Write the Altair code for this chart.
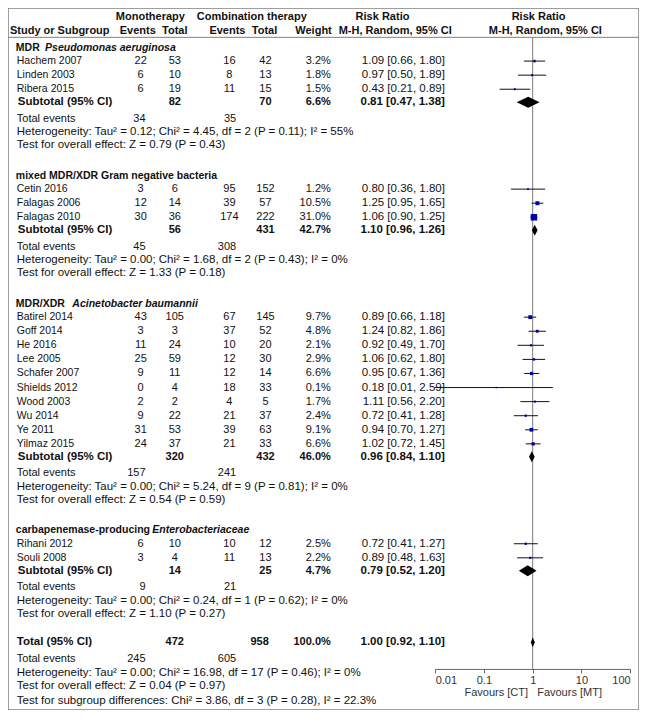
import altair as alt
import pandas as pd

# ---------------- data ----------------
study_group = [0, 0, 0, 1, 1, 1, 2, 2, 2, 2, 2, 2, 2, 2, 2, 2, 3, 3]
study_names = ["Hachem 2007", "Linden 2003", "Ribera 2015",
               "Cetin 2016", "Falagas 2006", "Falagas 2010",
               "Batirel 2014", "Goff 2014", "He 2016", "Lee 2005", "Schafer 2007",
               "Shields 2012", "Wood 2003", "Wu 2014", "Ye 2011", "Yilmaz 2015",
               "Rihani 2012", "Souli 2008"]
mono_events = [22, 6, 6, 3, 12, 30, 43, 3, 11, 25, 9, 0, 2, 9, 31, 24, 6, 3]
mono_total = [53, 10, 19, 6, 14, 36, 105, 3, 24, 59, 11, 4, 2, 22, 53, 37, 10, 4]
comb_events = [16, 8, 11, 95, 39, 174, 67, 37, 10, 12, 12, 18, 4, 21, 39, 21, 10, 11]
comb_total = [42, 13, 15, 152, 57, 222, 145, 52, 20, 30, 14, 33, 5, 37, 63, 33, 12, 13]
weights = [3.2, 1.8, 1.5, 1.2, 10.5, 31.0, 9.7, 4.8, 2.1, 2.9, 6.6, 0.1, 1.7, 2.4, 9.1, 6.6, 2.5, 2.2]
rr = [1.09, 0.97, 0.43, 0.80, 1.25, 1.06, 0.89, 1.24, 0.92, 1.06, 0.95, 0.18, 1.11, 0.72, 0.94, 1.02, 0.72, 0.89]
rr_lo = [0.66, 0.50, 0.21, 0.36, 0.95, 0.90, 0.66, 0.82, 0.49, 0.62, 0.67, 0.01, 0.56, 0.41, 0.70, 0.72, 0.41, 0.48]
rr_hi = [1.80, 1.89, 0.89, 1.80, 1.65, 1.25, 1.18, 1.86, 1.70, 1.80, 1.36, 2.59, 2.20, 1.28, 1.27, 1.45, 1.27, 1.63]

group_title_plain = ["MDR ", "mixed MDR/XDR Gram negative bacteria", "MDR/XDR ", "carbapenemase-producing "]
group_title_italic = ["Pseudomonas aeruginosa", "", "Acinetobacter baumannii", "Enterobacteriaceae"]
sub_mono_total = [82, 56, 320, 14]
sub_comb_total = [70, 431, 432, 25]
sub_weight = [6.6, 42.7, 46.0, 4.7]
sub_rr = [0.81, 1.10, 0.96, 0.79]
sub_lo = [0.47, 0.96, 0.84, 0.52]
sub_hi = [1.38, 1.26, 1.10, 1.20]
sub_mono_events = [34, 45, 157, 9]
sub_comb_events = [35, 308, 241, 21]
sub_heterogeneity = ["Tau² = 0.12; Chi² = 4.45, df = 2 (P = 0.11); I² = 55%",
                     "Tau² = 0.00; Chi² = 1.68, df = 2 (P = 0.43); I² = 0%",
                     "Tau² = 0.00; Chi² = 5.24, df = 9 (P = 0.81); I² = 0%",
                     "Tau² = 0.00; Chi² = 0.24, df = 1 (P = 0.62); I² = 0%"]
sub_overall = ["Z = 0.79 (P = 0.43)", "Z = 1.33 (P = 0.18)", "Z = 0.54 (P = 0.59)", "Z = 1.10 (P = 0.27)"]

total_mono_total = 472
total_comb_total = 958
total_weight = 100.0
total_rr = [1.00]
total_lo = [0.92]
total_hi = [1.10]
total_mono_events = 245
total_comb_events = 605
total_heterogeneity = "Tau² = 0.00; Chi² = 16.98, df = 17 (P = 0.46); I² = 0%"
total_overall = "Z = 0.04 (P = 0.97)"
subgroup_diff = "Chi² = 3.86, df = 3 (P = 0.28), I² = 22.3%"

axis_ticks = [0.01, 0.1, 1, 10, 100]
axis_title = "Favours [CT]\u00a0\u00a0 Favours [MT]"

# ---------------- layout ----------------
W, H = 631, 702
SX, SY = W / 647.0, H / 718.0
FONT = "Liberation Sans"
FS_HEAD, FS_TITLE, FS_NAME, FS_NUM, FS_RR, FS_SUB, FS_TE, FS_HET = 11, 10.5, 10.5, 11, 11.5, 11.5, 11, 11.5

# row positions (in reference pixel units, mapped by the y scale)
POS_HEAD1, POS_HEAD2, POS_LINE, POS_AXIS = 9.3, 23.3, 30.0, 676.0
study_pos, title_pos, sub_pos, te_pos, het_pos, test_pos = [], [], [], [], [], []
p = 40.7
for g in range(4):
    title_pos.append(p)
    p += 13.6
    first = True
    for s in study_group:
        if s != g:
            continue
        if not first:
            p += 14.4
        study_pos.append(p)
        first = False
    p += 13.2; sub_pos.append(p)
    p += 16.9; te_pos.append(p)
    p += 13.85; het_pos.append(p)
    p += 13.1; test_pos.append(p)
    if g < 3:
        p += 31.5
p += 29.3; tot_pos = p
p += 16.7; tot_te_pos = p
p += 15.0; tot_het_pos = p
p += 13.3; tot_test_pos = p
p += 15.0; subg_pos = p

# column x positions (reference px)
C_NAME, C_ME, C_MT, C_CE, C_CT, C_W, C_RR = 9, 136, 171, 227, 264, 331, 448

cells = []


def add(pos, txt, x, align="left", size=11, bold=False, italic=False):
    cells.append(dict(pos=pos, txt=str(txt), x=float(x), align=align, size=float(size),
                      bold=bold, italic=italic))


def fmt_rr(r, lo, hi):
    return f"{r:.2f} [{lo:.2f}, {hi:.2f}]"


# headers
add(POS_HEAD1, "Monotherapy", 146, "center", FS_HEAD, True)
add(POS_HEAD1, "Combination therapy", 250, "center", FS_HEAD, True)
add(POS_HEAD1, "Risk Ratio", 384, "center", FS_HEAD, True)
add(POS_HEAD1, "Risk Ratio", 544, "center", FS_HEAD, True)
add(POS_HEAD2, "Study or Subgroup", 2, "left", FS_HEAD, True)
add(POS_HEAD2, "Events", 133, "center", FS_HEAD, True)
add(POS_HEAD2, "Total", 171, "center", FS_HEAD, True)
add(POS_HEAD2, "Events", 225, "center", FS_HEAD, True)
add(POS_HEAD2, "Total", 263, "center", FS_HEAD, True)
add(POS_HEAD2, "Weight", 332, "right", FS_HEAD, True)
add(POS_HEAD2, "M-H, Random, 95% CI", 397, "center", FS_HEAD, True)
add(POS_HEAD2, "M-H, Random, 95% CI", 551, "center", FS_HEAD, True)

italic_x = [38, 0, 66, 148]
for g in range(4):
    add(title_pos[g], group_title_plain[g], 8, "left", FS_TITLE, True)
    if group_title_italic[g]:
        add(title_pos[g], group_title_italic[g], italic_x[g], "left", FS_TITLE, True, True)
    add(sub_pos[g], "Subtotal (95% CI)", 10, "left", FS_SUB, True)
    add(sub_pos[g], sub_mono_total[g], C_MT, "center", FS_NUM, True)
    add(sub_pos[g], sub_comb_total[g], C_CT, "center", FS_NUM, True)
    add(sub_pos[g], f"{sub_weight[g]:.1f}%", C_W, "right", FS_NUM, True)
    add(sub_pos[g], fmt_rr(sub_rr[g], sub_lo[g], sub_hi[g]), C_RR, "right", FS_RR, True)
    add(te_pos[g], "Total events", C_NAME, "left", FS_TE)
    add(te_pos[g], sub_mono_events[g], 141, "right", FS_NUM)
    add(te_pos[g], sub_comb_events[g], 234, "right", FS_NUM)
    add(het_pos[g], "Heterogeneity: " + sub_heterogeneity[g], C_NAME, "left", FS_HET)
    add(test_pos[g], "Test for overall effect: " + sub_overall[g], C_NAME, "left", FS_HET)

for i, name in enumerate(study_names):
    pp = study_pos[i]
    add(pp, name, C_NAME, "left", FS_NAME)
    add(pp, mono_events[i], C_ME, "center", FS_NUM)
    add(pp, mono_total[i], C_MT, "center", FS_NUM)
    add(pp, comb_events[i], C_CE, "center", FS_NUM)
    add(pp, comb_total[i], C_CT, "center", FS_NUM)
    add(pp, f"{weights[i]:.1f}%", C_W, "right", FS_NUM)
    add(pp, fmt_rr(rr[i], rr_lo[i], rr_hi[i]), C_RR, "right", FS_RR)

add(tot_pos, "Total (95% CI)", C_NAME, "left", FS_SUB, True)
add(tot_pos, total_mono_total, C_MT, "center", FS_NUM, True)
add(tot_pos, total_comb_total, 258, "center", FS_NUM, True)
add(tot_pos, f"{total_weight:.1f}%", C_W, "right", FS_NUM, True)
add(tot_pos, fmt_rr(total_rr[0], total_lo[0], total_hi[0]), C_RR, "right", FS_RR, True)
add(tot_te_pos, "Total events", C_NAME, "left", FS_TE)
add(tot_te_pos, total_mono_events, 141, "right", FS_NUM)
add(tot_te_pos, total_comb_events, 234, "right", FS_NUM)
add(tot_het_pos, "Heterogeneity: " + total_heterogeneity, C_NAME, "left", FS_HET)
add(tot_test_pos, "Test for overall effect: " + total_overall, C_NAME, "left", FS_HET)
add(subg_pos, "Test for subgroup differences: " + subgroup_diff, C_NAME, "left", FS_HET)

cells_df = pd.DataFrame(cells)

# ---------------- scales ----------------
yscale = alt.Scale(domain=[0, 718], range=[0, H])
xscale = alt.Scale(type="log", domain=[0.01, 100], range=[438 * SX, 638 * SX])
xaxis = alt.Axis(values=axis_ticks, format="~g", labelFlush=True, labelOverlap=False, grid=False,
                 offset=POS_AXIS * SY - H, title=axis_title, titleFontWeight="normal",
                 titleFont=FONT, titleFontSize=11, labelFont=FONT, labelFontSize=11,
                 domainColor="#666666", tickColor="#666666", labelColor="#333333",
                 titleColor="#333333", tickSize=4, labelPadding=2, titlePadding=1)


def X(field):
    return alt.X(field, type="quantitative", scale=xscale, axis=xaxis)


def Y(field):
    return alt.Y(field, type="quantitative", scale=yscale, axis=None)


layers = []

# header separator line
layers.append(alt.Chart(pd.DataFrame({"pos": [POS_LINE]})).mark_rule(color="#808080", strokeWidth=1)
              .encode(x=alt.value(0), x2=alt.value(W), y=Y("pos")))

# line of no effect
layers.append(alt.Chart(pd.DataFrame({"x": [1.0], "p0": [POS_LINE], "p1": [POS_AXIS]}))
              .mark_rule(color="#7a7a7a", strokeWidth=1)
              .encode(x=X("x"), y=Y("p0"), y2="p1:Q"))

studies_df = pd.DataFrame({"pos": study_pos, "rr": rr, "lo": rr_lo, "hi": rr_hi, "weight": weights})

layers.append(alt.Chart(studies_df).mark_rule(color="#111111", strokeWidth=1)
              .encode(x=X("lo"), x2="hi:Q", y=Y("pos")))
layers.append(alt.Chart(studies_df).mark_square(color="#0000a8", opacity=1)
              .encode(x=X("rr"), y=Y("pos"),
                      size=alt.Size("weight:Q", scale=alt.Scale(domain=[0, 31], range=[2, 42]), legend=None)))

# diamonds for subtotals and overall total
DH = 5.6
dia = []
for k, (pp, r, lo, hi) in enumerate(zip(sub_pos + [tot_pos], sub_rr + total_rr, sub_lo + total_lo, sub_hi + total_hi)):
    h = DH if k < 4 else 5.0
    dia.append(dict(id=k, x=lo, top=pp, bot=pp))
    dia.append(dict(id=k, x=r, top=pp - h, bot=pp + h))
    dia.append(dict(id=k, x=hi, top=pp, bot=pp))
layers.append(alt.Chart(pd.DataFrame(dia)).mark_area(color="black", opacity=1, interpolate="linear")
              .encode(x=X("x"), y=Y("top"), y2="bot:Q", detail="id:N"))

# text cells
for (x, align, size, bold, italic), d in cells_df.groupby(["x", "align", "size", "bold", "italic"]):
    layers.append(
        alt.Chart(d[["pos", "txt"]]).mark_text(
            align=str(align), baseline="middle", font=FONT, fontSize=float(size),
            fontWeight="bold" if bool(bold) else "normal",
            fontStyle="italic" if bool(italic) else "normal", color="#111111")
        .encode(x=alt.value(float(x) * SX), y=Y("pos"), text="txt:N"))

chart = (alt.layer(*layers)
         .properties(width=W, height=H, padding=0, autosize=alt.AutoSizeParams(type="none"),
                     background="white")
         .configure_view(stroke="#808080", strokeWidth=1.5))

chart.save("out.html", embed_options={"renderer": "svg", "actions": False})
